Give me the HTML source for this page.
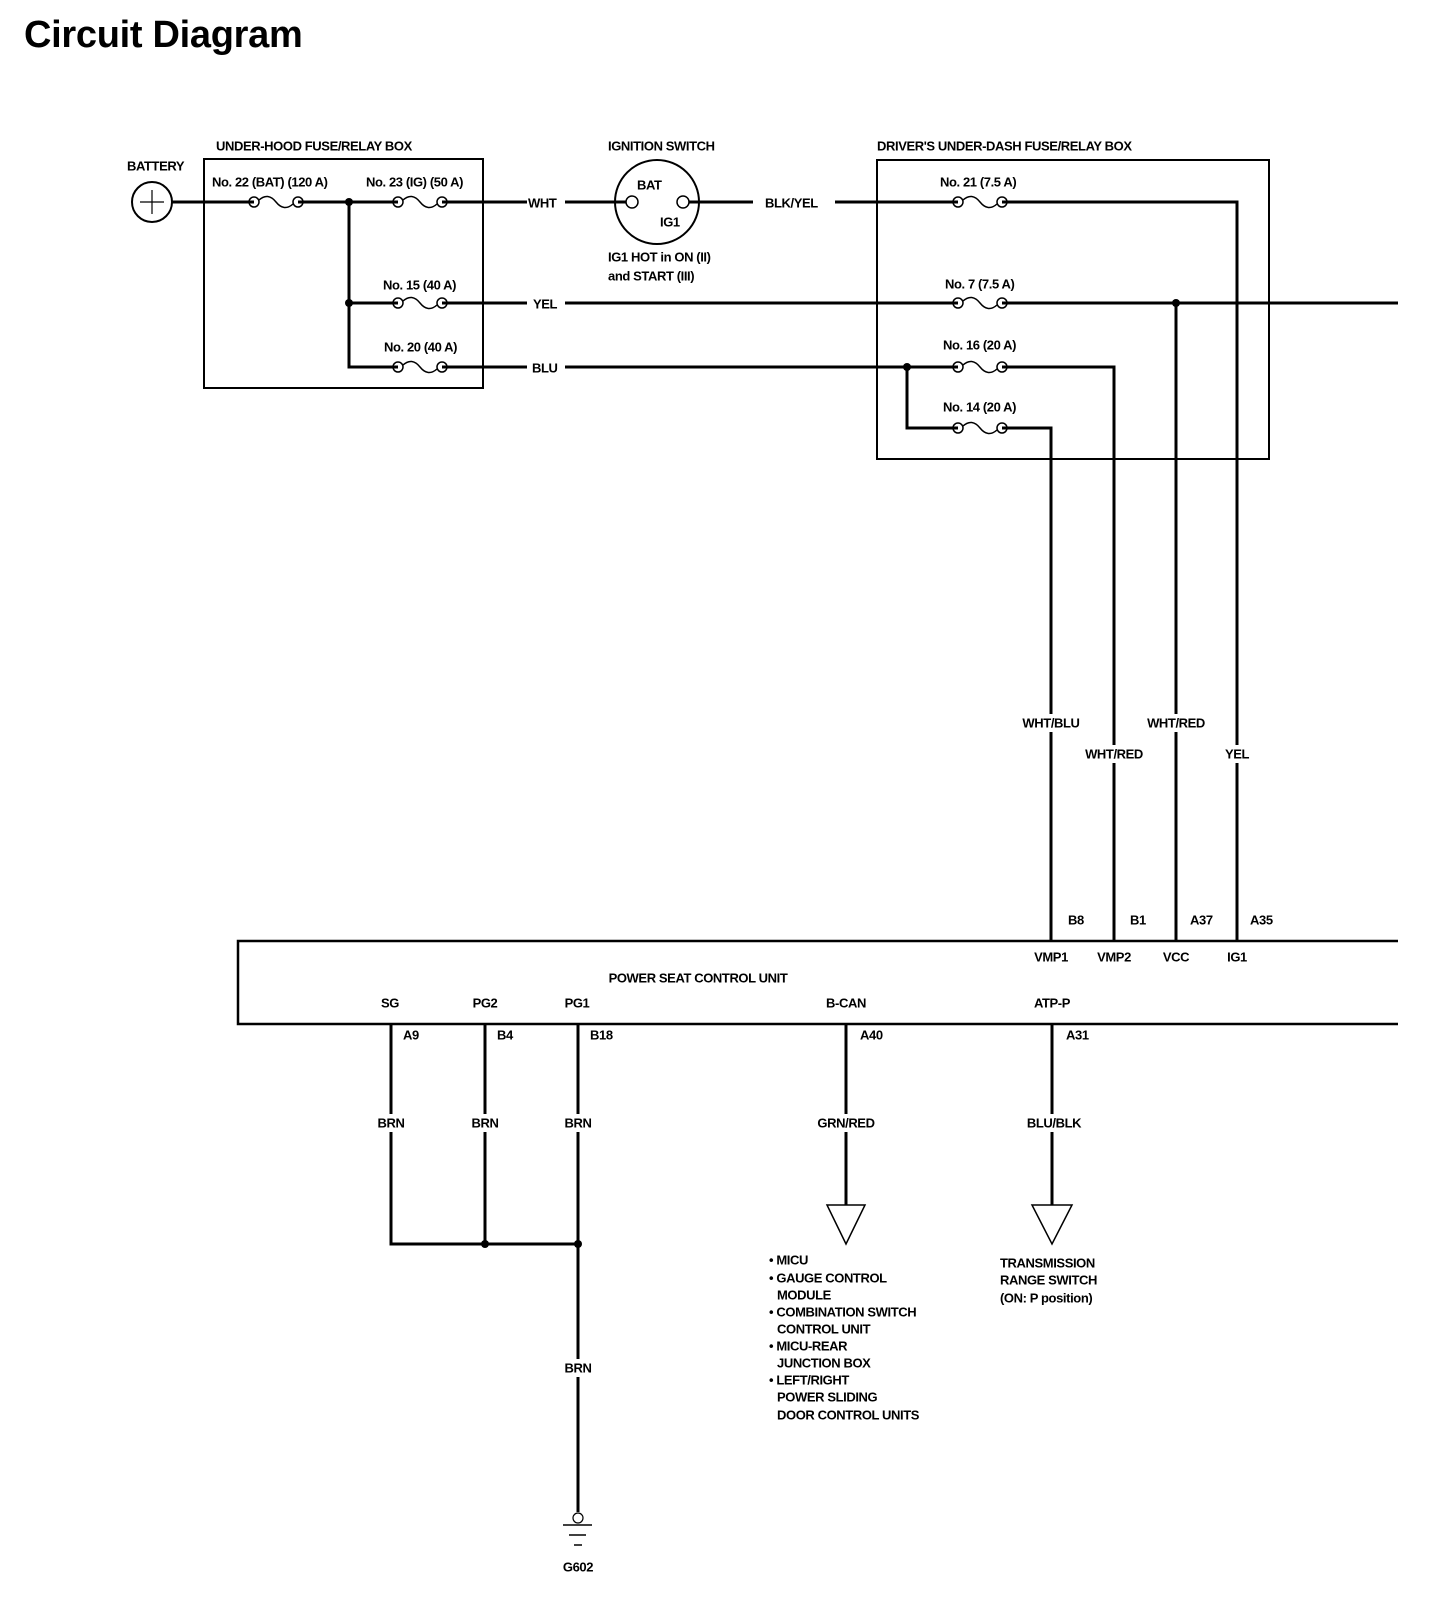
<!DOCTYPE html>
<html><head><meta charset="utf-8"><style>
html,body{margin:0;padding:0;background:#fff}
svg{display:block}
text{font-family:"Liberation Sans Narrow","Liberation Sans",sans-serif;font-weight:bold;font-size:13px;letter-spacing:-0.4px;fill:#000;dominant-baseline:central}
.t{font-family:"Liberation Sans",sans-serif;font-size:38px;letter-spacing:-0.3px;dominant-baseline:auto}
</style></head><body>
<svg width="1440" height="1624" viewBox="0 0 1440 1624" xmlns="http://www.w3.org/2000/svg">
<defs>
<g id="f"><circle cx="-22" cy="0" r="5"/><circle cx="22" cy="0" r="5"/><path d="M-17 -2Q-8 -10 0 0T17 2"/></g>
</defs>
<text class="t" x="24" y="47">Circuit Diagram</text>
<g fill="none" stroke="#000">
<rect x="204" y="159" width="279" height="229" stroke-width="2"/>
<rect x="877" y="160" width="392" height="299" stroke-width="2"/>
<circle cx="152" cy="202" r="20" stroke-width="2"/>
<path d="M140 202H164M152 190V214" stroke-width="1.2"/>
<circle cx="657" cy="202" r="42" stroke-width="2"/>
<circle cx="632" cy="202" r="6" stroke-width="1.5"/>
<circle cx="683" cy="202" r="6" stroke-width="1.5"/>
<g stroke-width="3">
<path d="M172 202H254M298 202H398M442 202H527"/>
<path d="M565 202H626M689 202H753"/>
<path d="M835 202H958M1002 202H1237V941"/>
<path d="M349 202V367H398M349 303H398M442 303H527M442 367H527"/>
<path d="M565 303H958M1002 303H1398"/>
<path d="M1176 303V941"/>
<path d="M565 367H958M1002 367H1114V941"/>
<path d="M907 367V428H958M1002 428H1051V941"/>
<path d="M1398 941H238V1024H1398" stroke-width="2.5"/>
<path d="M391 1024V1244H578M485 1024V1244M578 1024V1512"/>
<path d="M846 1024V1205M1052 1024V1205"/>
</g>
<polygon points="827,1205 865,1205 846,1244" stroke-width="1.5"/>
<polygon points="1032,1205 1072,1205 1052,1244" stroke-width="1.5"/>
<circle cx="578" cy="1518" r="5" stroke-width="1.2"/>
<path d="M563 1525H592M569 1535H586M574 1545H582" stroke-width="1.5"/>
</g>
<g fill="none" stroke="#000" stroke-width="1.5">
<use href="#f" x="276" y="202"/><use href="#f" x="420" y="202"/>
<use href="#f" x="420" y="303"/><use href="#f" x="420" y="367"/>
<use href="#f" x="980" y="202"/><use href="#f" x="980" y="303"/>
<use href="#f" x="980" y="367"/><use href="#f" x="980" y="428"/>
</g>
<g fill="#000">
<circle cx="349" cy="202" r="4"/><circle cx="349" cy="303" r="4"/>
<circle cx="1176" cy="303" r="4"/><circle cx="907" cy="367" r="4"/>
<circle cx="485" cy="1244" r="4"/><circle cx="578" cy="1244" r="4"/>
</g>
<g fill="#fff">
<rect x="1022" y="714" width="60" height="18"/><rect x="1084" y="745" width="62" height="18"/>
<rect x="1146" y="714" width="60" height="18"/><rect x="1224" y="745" width="28" height="18"/>
<rect x="377" y="1114" width="28" height="18"/><rect x="471" y="1114" width="28" height="18"/>
<rect x="564" y="1114" width="28" height="18"/><rect x="564" y="1359" width="28" height="18"/>
<rect x="820" y="1114" width="54" height="18"/><rect x="1028" y="1114" width="52" height="18"/>
</g>
<text x="216" y="146">UNDER-HOOD FUSE/RELAY BOX</text>
<text x="608" y="146">IGNITION SWITCH</text>
<text x="877" y="146">DRIVER'S UNDER-DASH FUSE/RELAY BOX</text>
<text x="127" y="166">BATTERY</text>
<text x="212" y="182">No. 22 (BAT) (120 A)</text>
<text x="366" y="182">No. 23 (IG) (50 A)</text>
<text x="383" y="285">No. 15 (40 A)</text>
<text x="384" y="347">No. 20 (40 A)</text>
<text x="528" y="203">WHT</text><text x="533" y="304">YEL</text><text x="532" y="368">BLU</text>
<text x="637" y="185">BAT</text><text x="660" y="222">IG1</text>
<text x="608" y="257">IG1 HOT in ON (II)</text>
<text x="608" y="276">and START (III)</text>
<text x="765" y="203">BLK/YEL</text>
<text x="940" y="182">No. 21 (7.5 A)</text>
<text x="945" y="284">No. 7 (7.5 A)</text>
<text x="943" y="345">No. 16 (20 A)</text>
<text x="943" y="407">No. 14 (20 A)</text>
<g text-anchor="middle">
<text x="1051" y="723">WHT/BLU</text><text x="1114" y="754">WHT/RED</text>
<text x="1176" y="723">WHT/RED</text><text x="1237" y="754">YEL</text>
<text x="1051" y="957">VMP1</text><text x="1114" y="957">VMP2</text>
<text x="1176" y="957">VCC</text><text x="1237" y="957">IG1</text>
<text x="698" y="978">POWER SEAT CONTROL UNIT</text>
<text x="390" y="1003">SG</text><text x="485" y="1003">PG2</text><text x="577" y="1003">PG1</text>
<text x="846" y="1003">B-CAN</text><text x="1052" y="1003">ATP-P</text>
<text x="391" y="1123">BRN</text><text x="485" y="1123">BRN</text><text x="578" y="1123">BRN</text>
<text x="846" y="1123">GRN/RED</text><text x="1054" y="1123">BLU/BLK</text>
<text x="578" y="1368">BRN</text>
<text x="578" y="1567">G602</text>
</g>
<text x="1068" y="920">B8</text><text x="1130" y="920">B1</text>
<text x="1190" y="920">A37</text><text x="1250" y="920">A35</text>
<text x="403" y="1035">A9</text><text x="497" y="1035">B4</text><text x="590" y="1035">B18</text>
<text x="860" y="1035">A40</text><text x="1066" y="1035">A31</text>
<text x="769" y="1260">• MICU</text>
<text x="769" y="1278">• GAUGE CONTROL</text>
<text x="777" y="1295">MODULE</text>
<text x="769" y="1312">• COMBINATION SWITCH</text>
<text x="777" y="1329">CONTROL UNIT</text>
<text x="769" y="1346">• MICU-REAR</text>
<text x="777" y="1363">JUNCTION BOX</text>
<text x="769" y="1380">• LEFT/RIGHT</text>
<text x="777" y="1397">POWER SLIDING</text>
<text x="777" y="1415">DOOR CONTROL UNITS</text>
<text x="1000" y="1263">TRANSMISSION</text>
<text x="1000" y="1280">RANGE SWITCH</text>
<text x="1000" y="1298">(ON: P position)</text>
</svg>
</body></html>
